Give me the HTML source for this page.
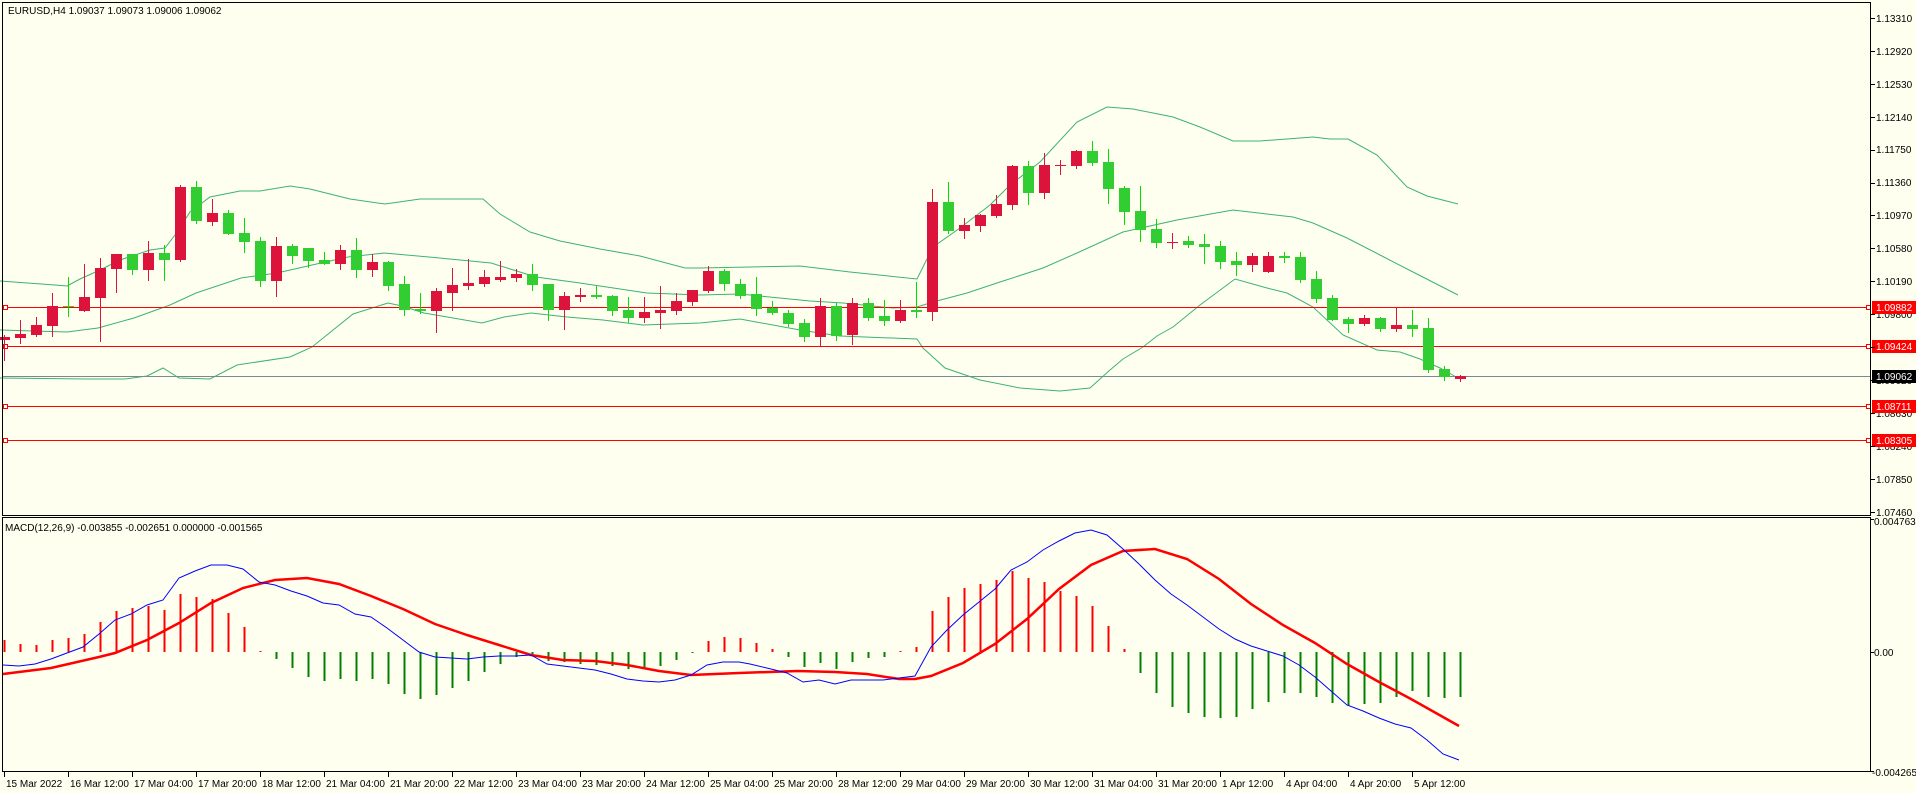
<!DOCTYPE html>
<html><head><meta charset="utf-8">
<style>
html,body{margin:0;padding:0;background:#FFFFF0;}
svg{display:block;}
text{font-family:"Liberation Sans",sans-serif;font-size:10px;fill:#000;}
</style></head>
<body>
<svg id="c" width="1916" height="793" viewBox="0 0 1916 793" xmlns="http://www.w3.org/2000/svg">
<rect x="0" y="0" width="1916" height="793" fill="#FFFFF0"/>
<g id="bands" fill="none" stroke="#3CB371" stroke-width="1">
<polyline points="0,281 55,285 67,286 80,279 100,270 120,260 150,250 165,248 175,235 190,212 210,197 240,191 260,191 290,186 310,189 350,199 385,204 420,199 483,199 500,214 530,232 560,241 600,249 640,256 685,268 700,268 800,266 850,272 917,279 933,247 960,228 990,205 1010,185 1040,162 1077,122 1107,107 1133,109 1153,113 1173,117 1200,127 1233,141 1260,141 1287,139 1313,137 1330,139 1348,139 1377,155 1407,187 1427,196 1458,204"/>
<polyline points="0,330 67,332 98,328 134,318 170,305 196,293 241,278 277,273 312,265 348,257 384,253 429,257 491,263 536,277 580,283 647,293 700,295 740,294 810,301 843,303 893,308 917,307 933,302 967,293 1000,282 1043,268 1077,253 1123,232 1177,220 1233,210 1267,214 1293,217 1313,223 1347,238 1380,255 1413,272 1458,295"/>
<polyline points="0,378 89,379 125,379 147,376 163,368 179,378 210,379 237,365 290,357 312,347 353,314 388,303 402,306 424,313 482,323 504,317 531,313 567,317 603,320 643,325 700,323 740,319 800,330 840,336 917,339 923,348 945,368 980,380 1020,388 1060,391 1090,388 1110,370 1123,359 1143,347 1157,336 1173,327 1200,305 1235,279 1267,288 1287,293 1313,307 1343,335 1377,350 1400,352 1420,359 1440,368 1458,378"/>
</g>
<line x1="2" y1="307.5" x2="1871" y2="307.5" stroke="#FF0000"/>
<line x1="2" y1="346.5" x2="1871" y2="346.5" stroke="#FF0000"/>
<line x1="2" y1="406.5" x2="1871" y2="406.5" stroke="#FF0000"/>
<line x1="2" y1="440.5" x2="1871" y2="440.5" stroke="#FF0000"/>
<line x1="2" y1="376.5" x2="1871" y2="376.5" stroke="#778899"/>
<g fill="#FFFFF0" stroke="#FF0000">
<rect x="3.5" y="305.5" width="4" height="4"/><rect x="1866.5" y="305.5" width="4" height="4"/>
<rect x="3.5" y="344.5" width="4" height="4"/><rect x="1866.5" y="344.5" width="4" height="4"/>
<rect x="3.5" y="404.5" width="4" height="4"/><rect x="1866.5" y="404.5" width="4" height="4"/>
<rect x="3.5" y="438.5" width="4" height="4"/><rect x="1866.5" y="438.5" width="4" height="4"/>
</g>
<g id="candles"></g>
<g id="macd"></g>
<rect x="2.5" y="2.5" width="1868" height="513" fill="none" stroke="#000"/>
<rect x="2.5" y="517.5" width="1868" height="254" fill="none" stroke="#000"/>
<text x="8" y="14">EURUSD,H4  1.09037 1.09073 1.09006 1.09062</text>
<text x="5" y="531">MACD(12,26,9) -0.003855 -0.002651 0.000000 -0.001565</text>
<g id="axis">
<text x="1876" y="22">1.13310</text>
<text x="1876" y="55">1.12920</text>
<text x="1876" y="88">1.12530</text>
<text x="1876" y="121">1.12140</text>
<text x="1876" y="153">1.11750</text>
<text x="1876" y="186">1.11360</text>
<text x="1876" y="219">1.10970</text>
<text x="1876" y="252">1.10580</text>
<text x="1876" y="285">1.10190</text>
<text x="1876" y="318">1.09800</text>
<text x="1876" y="351">1.09410</text>
<text x="1876" y="384">1.09020</text>
<text x="1876" y="417">1.08630</text>
<text x="1876" y="450">1.08240</text>
<text x="1876" y="483">1.07850</text>
<text x="1876" y="516">1.07460</text>
<text x="1874" y="525">0.004763</text>
<text x="1874" y="656">0.00</text>
<text x="1872" y="776">-0.004265</text>
</g>
<rect x="1872" y="301" width="44" height="13" fill="#FF0000"/><text x="1876" y="311" style="fill:#fff">1.09882</text>
<rect x="1872" y="340" width="44" height="13" fill="#FF0000"/><text x="1876" y="350" style="fill:#fff">1.09424</text>
<rect x="1872" y="370" width="44" height="13" fill="#000"/><text x="1876" y="380" style="fill:#fff">1.09062</text>
<rect x="1872" y="400" width="44" height="13" fill="#FF0000"/><text x="1876" y="410" style="fill:#fff">1.08711</text>
<rect x="1872" y="434" width="44" height="13" fill="#FF0000"/><text x="1876" y="444" style="fill:#fff">1.08305</text>
<g id="ticks" stroke="#000"></g>
<g id="tl">
<text x="6" y="787">15 Mar 2022</text>
<text x="70" y="787">16 Mar 12:00</text>
<text x="134" y="787">17 Mar 04:00</text>
<text x="198" y="787">17 Mar 20:00</text>
<text x="262" y="787">18 Mar 12:00</text>
<text x="326" y="787">21 Mar 04:00</text>
<text x="390" y="787">21 Mar 20:00</text>
<text x="454" y="787">22 Mar 12:00</text>
<text x="518" y="787">23 Mar 04:00</text>
<text x="582" y="787">23 Mar 20:00</text>
<text x="646" y="787">24 Mar 12:00</text>
<text x="710" y="787">25 Mar 04:00</text>
<text x="774" y="787">25 Mar 20:00</text>
<text x="838" y="787">28 Mar 12:00</text>
<text x="902" y="787">29 Mar 04:00</text>
<text x="966" y="787">29 Mar 20:00</text>
<text x="1030" y="787">30 Mar 12:00</text>
<text x="1094" y="787">31 Mar 04:00</text>
<text x="1158" y="787">31 Mar 20:00</text>
<text x="1222" y="787">1 Apr 12:00</text>
<text x="1286" y="787">4 Apr 04:00</text>
<text x="1350" y="787">4 Apr 20:00</text>
<text x="1414" y="787">5 Apr 12:00</text>
</g>
</svg>
<script>
var NS="http://www.w3.org/2000/svg";
function el(p,t,a){var e=document.createElementNS(NS,t);for(var k in a)e.setAttribute(k,a[k]);p.appendChild(e);return e;}
var C=[
[0,'r',337,340,335,360],[1,'r',334,338,320,343],[2,'r',325,335,317,336],[3,'r',306,326,293,336],[4,'g',306,307,277,316],
[5,'r',297,311,264,311],[6,'r',268,298,258,341],[7,'r',254,269,254,292],[8,'g',254,270,254,274],[9,'r',253,270,241,280],
[10,'g',253,260,245,280],[11,'r',187,260,185,261],[12,'g',187,221,181,223],[13,'r',213,222,199,225],[14,'g',213,234,210,234],
[15,'g',233,242,218,252],[16,'g',241,281,237,286],[17,'r',246,281,237,296],[18,'g',246,256,244,263],[19,'g',248,261,248,267],
[20,'g',260,264,252,264],[21,'r',250,264,245,269],[22,'g',250,270,238,277],[23,'r',262,270,254,276],[24,'g',262,286,261,290],
[25,'g',284,310,276,315],[26,'g',309,311,293,313],[27,'r',291,311,288,332],[28,'r',285,293,268,310],[29,'r',283,286,259,289],
[30,'r',277,284,270,286],[31,'r',277,280,261,281],[32,'r',274,278,269,281],[33,'g',274,285,264,290],[34,'g',284,310,284,320],
[35,'r',296,310,292,329],[36,'r',295,297,288,301],[37,'g',295,297,286,298],[38,'g',296,311,295,315],[39,'g',310,318,297,322],
[40,'r',312,318,297,322],[41,'r',310,313,286,328],[42,'r',301,311,293,314],[43,'r',290,302,290,305],[44,'r',271,291,266,292],
[45,'g',271,284,269,290],[46,'g',284,296,279,298],[47,'g',294,309,277,315],[48,'g',308,313,301,314],[49,'g',313,324,310,326],
[50,'g',323,337,319,341],[51,'r',306,337,298,346],[52,'g',306,336,303,340],[53,'r',303,335,298,344],[54,'g',303,318,298,320],
[55,'g',316,321,300,325],[56,'r',310,321,300,322],[57,'g',310,312,282,317],[58,'r',202,312,189,320],[59,'g',202,231,182,233],
[60,'r',225,231,218,238],[61,'r',215,226,214,231],[62,'r',204,216,195,217],[63,'r',166,205,165,209],[64,'g',166,193,161,204],
[65,'r',165,193,153,198],[66,'r',165,166,160,174],[67,'r',151,166,150,168],[68,'g',151,163,141,165],[69,'g',162,189,149,203],
[70,'g',188,212,186,224],[71,'g',211,230,186,241],[72,'g',229,243,219,247],[73,'r',242,243,233,248],[74,'g',241,245,236,247],
[75,'g',244,247,234,263],[76,'g',246,262,241,268],[77,'g',261,265,252,275],[78,'r',256,265,253,271],[79,'r',256,272,252,272],
[80,'g',256,258,252,262],[81,'g',257,280,252,282],[82,'g',279,299,271,302],[83,'g',298,320,295,320],[84,'g',319,324,317,332],
[85,'r',318,324,315,325],[86,'g',318,329,317,331],[87,'r',325,329,307,331],[88,'g',325,329,310,336],[89,'g',328,370,318,372],
[90,'g',369,377,366,380],[91,'r',376,379,375,381]];
var cg=document.getElementById('candles');
C.forEach(function(c){var x=4+16*c[0];var bc=c[1]=='r'?'#DC143C':'#32CD32';var wc=c[1]=='r'?'#DC143C':'#00E000';
el(cg,'line',{x1:x+0.5,y1:c[4],x2:x+0.5,y2:c[5]+1,stroke:wc,'stroke-width':1});
var h=Math.max(1,c[3]-c[2]);el(cg,'rect',{x:x-5,y:c[2],width:11,height:h,fill:bc});});
var H=[12,8,7,12,14,18,30,41,44,46,42,58,55,53,39,25,1,-7,-16,-25,-29,-27,-29,-27,-32,-42,-47,-43,-36,-29,-20,-12,-5,-4,-9,-10,-12,-13,-14,-17,-17,-14,-8,-1,11,15,14,9,3,-5,-15,-11,-17,-10,-6,-5,1,5,41,55,64,68,72,81,74,70,61,56,46,26,3,-21,-41,-55,-61,-65,-66,-65,-57,-50,-41,-41,-45,-51,-54,-52,-51,-45,-39,-45,-46,-45];
var mg=document.getElementById('macd');
H.forEach(function(v,i){var x=4+16*i;var z=652;
el(mg,'rect',{x:x-0.5,y:v>0?z-v:z,width:2,height:Math.abs(v)||1,fill:v>0?'#FF0000':'#008000'});});
el(mg,'polyline',{fill:'none',stroke:'#FF0000','stroke-width':2.5,points:"3,674 51,668 99,657 115,653 147,640 179,623 211,603 243,588 275,580 307,578 339,584 371,596 403,609 435,624 467,635 499,645 531,655 563,660 595,661 627,665 659,671 691,675 739,673 798,671 835,672 867,674 899,679 915,679 931,676 963,663 995,644 1027,619 1059,589 1091,565 1123,551 1155,549 1187,559 1219,579 1251,604 1283,625 1315,643 1347,664 1379,682 1411,699 1459,726"});
el(mg,'polyline',{fill:'none',stroke:'#0000FF','stroke-width':1,points:"3,665 19,666 35,664 51,659 67,653 83,647 99,634 115,620 131,614 147,605 163,600 179,578 195,571 211,565 227,565 243,569 259,582 275,585 291,591 307,596 323,603 339,605 355,614 371,617 387,628 403,640 419,652 435,657 451,658 467,659 483,657 499,656 515,656 531,655 547,664 563,666 579,668 595,670 611,674 627,679 643,681 659,682 675,680 691,675 707,665 723,662 739,662 750,664 771,669 787,673 803,682 819,680 835,684 851,680 867,680 883,680 899,678 915,676 931,647 947,630 963,615 979,602 995,589 1011,570 1027,562 1043,550 1059,541 1075,533 1091,530 1107,535 1123,549 1139,564 1155,580 1171,594 1187,605 1203,617 1219,629 1235,639 1251,646 1267,651 1283,656 1299,665 1315,677 1331,691 1347,705 1363,711 1379,718 1395,724 1411,728 1427,740 1443,754 1459,760"});
var tg=document.getElementById('ticks');
for(var k=0;k<23;k++){var x=4+64*k+0.5;el(tg,'line',{x1:x,y1:772,x2:x,y2:777});}
for(var k=0;k<16;k++){var y=Math.round(18+k*32.9)+0.5;el(tg,'line',{x1:1871,y1:y,x2:1875,y2:y});}
[519.5,652.5,771.5].forEach(function(y){el(tg,'line',{x1:1871,y1:y,x2:1874,y2:y});});
</script>
</body></html>
